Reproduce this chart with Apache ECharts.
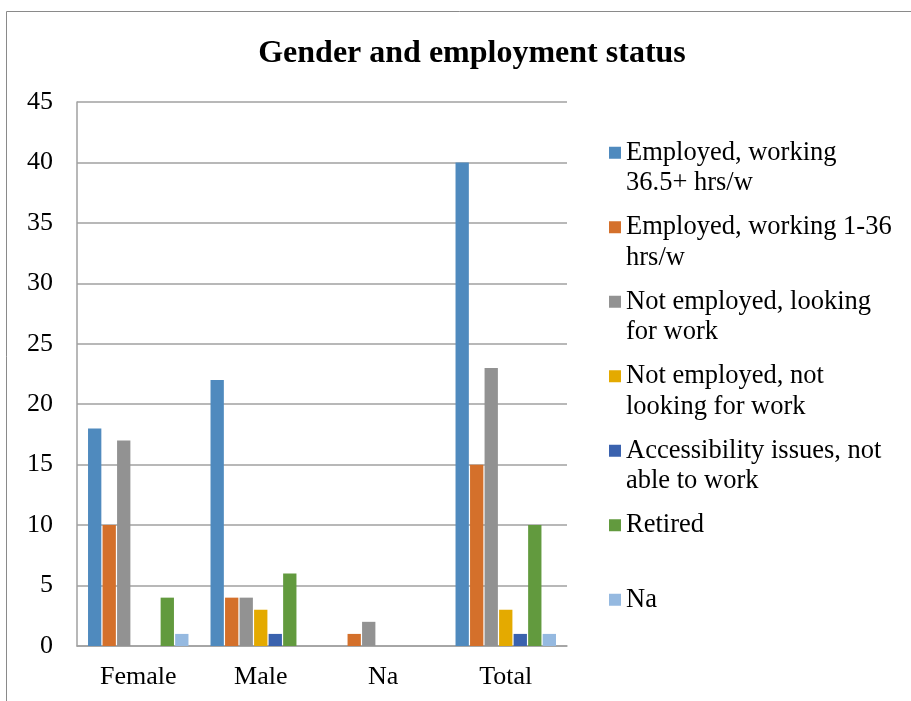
<!DOCTYPE html>
<html>
<head>
<meta charset="utf-8">
<script src="https://cdn.jsdelivr.net/npm/echarts@6/dist/echarts.min.js"></script>
<style>
  html, body { margin: 0; padding: 0; background: #fff; }
  #chart { width: 911px; height: 701px; }
</style>
</head>
<body>
<div id="chart"></div>
<script>
// Respondent counts by gender and employment status
const categories = ['Female', 'Male', 'Na', 'Total'];
const seriesNames = [
  'Employed, working 36.5+ hrs/w',
  'Employed, working 1-36 hrs/w',
  'Not employed, looking for work',
  'Not employed, not looking for work',
  'Accessibility issues, not able to work',
  'Retired',
  'Na'
];
// Legend labels as they wrap in the side panel
const legendLines = [
  ['Employed, working', '36.5+ hrs/w'],
  ['Employed, working 1-36', 'hrs/w'],
  ['Not employed, looking', 'for work'],
  ['Not employed, not', 'looking for work'],
  ['Accessibility issues, not', 'able to work'],
  ['Retired', ' '],
  ['Na', ' ']
];
const employedFull = [18, 22, 0, 40];
const employedPart = [10, 4, 1, 15];
const lookingForWork = [17, 4, 2, 23];
const notLooking = [0, 3, 0, 3];
const accessibility = [0, 1, 0, 1];
const retired = [4, 6, 0, 10];
const naStatus = [1, 0, 0, 1];
const yTicks = [0, 5, 10, 15, 20, 25, 30, 35, 40, 45];

const colors = ['#4f8abe', '#d4702b', '#929292', '#e4aa00', '#3a62ae', '#629a3e', '#95b9e0'];
const values = [employedFull, employedPart, lookingForWork, notLooking, accessibility, retired, naStatus];

const serif = '"Liberation Serif", "DejaVu Serif", serif';

// The legend text is centred on its swatch, so a blank line above
// puts the swatch level with the first line of each label.
function legendLabel(name) {
  const lines = legendLines[seriesNames.indexOf(name)];
  return [' '].concat(lines).join('\n');
}

const chart = echarts.init(document.getElementById('chart'));
chart.setOption({
  animation: false,
  color: colors,
  title: {
    text: 'Gender and employment status',
    left: 467,
    top: 33,
    textAlign: 'center',
    textStyle: { fontFamily: serif, fontWeight: 'bold', fontSize: 32, color: '#000' }
  },
  graphic: [{
    type: 'rect',
    silent: true,
    shape: { x: 6.5, y: 11.5, width: 1000, height: 1000 },
    style: { fill: 'none', stroke: '#8a8a8a', lineWidth: 1 }
  }],
  legend: {
    orient: 'vertical',
    left: 609,
    top: 107,
    padding: 0,
    itemGap: -17,
    itemWidth: 12,
    itemHeight: 12,
    icon: 'rect',
    data: seriesNames,
    formatter: legendLabel,
    textStyle: {
      fontFamily: serif,
      fontSize: 26.5,
      color: '#000',
      lineHeight: 30.5
    }
  },
  grid: { left: 77, right: 344, top: 102, bottom: 55, containLabel: false },
  xAxis: {
    type: 'category',
    data: categories,
    axisLine: { show: true, lineStyle: { color: '#a0a0a0', width: 1.5 } },
    axisTick: { show: false },
    axisLabel: { fontFamily: serif, fontSize: 26, color: '#000', margin: 18 }
  },
  yAxis: {
    type: 'value',
    min: 0,
    max: 45,
    interval: 5,
    axisLine: { show: true, lineStyle: { color: '#a0a0a0', width: 1.5 } },
    axisTick: { show: false },
    splitLine: { lineStyle: { color: '#a0a0a0', width: 1.5 } },
    axisLabel: {
      fontFamily: serif, fontSize: 26, color: '#000', margin: 24,
      formatter: v => yTicks.includes(v) ? String(v) : ''
    }
  },
  series: seriesNames.map((name, i) => ({
    name,
    type: 'bar',
    data: values[i],
    barGap: '9%',
    barCategoryGap: '18%'
  }))
});
</script>
</body>
</html>
